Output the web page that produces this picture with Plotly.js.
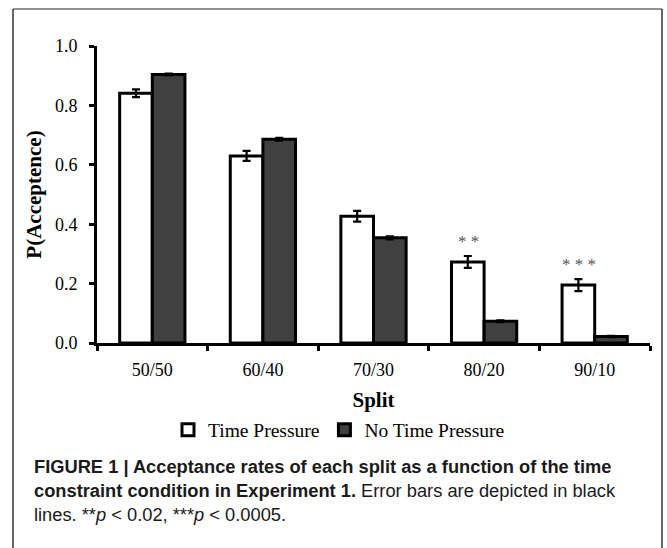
<!DOCTYPE html>
<html>
<head>
<meta charset="utf-8">
<script src="https://cdn.plot.ly/plotly-3.0.1.min.js"></script>
<style>
  html, body { margin: 0; padding: 0; background: #fff; }
  #chart { width: 667px; height: 548px; }
</style>
</head>
<body>
<div id="chart"></div>
<script>
// ---- data ----
const splits = ["50/50", "60/40", "70/30", "80/20", "90/10"];
const timePressure = [0.841, 0.630, 0.427, 0.273, 0.195];
const timePressureErr = [0.013, 0.017, 0.018, 0.020, 0.020];
const noTimePressure = [0.904, 0.686, 0.354, 0.073, 0.022];
const noTimePressureErr = [0.003, 0.005, 0.005, 0.003, 0.002];
const sigLabels = ["", "", "", "* *", "* * *"];
const yTicks = [0, 0.2, 0.4, 0.6, 0.8, 1.0];

const serif = "Liberation Serif, Times New Roman, serif";
const sans = "Liberation Sans, Arial, Helvetica, sans-serif";

// plot area in pixels: x 97..650, y 46..343
const L = 97, R = 650, T = 46, B = 343;
const px = v => (v - L) / (R - L);
const py = v => (B - v) / (B - T);

const traces = [
  {
    type: "bar", name: "Time Pressure", x: splits, y: timePressure,
    marker: { color: "#ffffff", line: { color: "#000000", width: 3 } },
    error_y: { type: "data", array: timePressureErr, visible: true, color: "#000000", thickness: 2.2, width: 4 }
  },
  {
    type: "bar", name: "No Time Pressure", x: splits, y: noTimePressure,
    marker: { color: "#404040", line: { color: "#000000", width: 3 } },
    error_y: { type: "data", array: noTimePressureErr, visible: true, color: "#000000", thickness: 2.2, width: 4 }
  }
];

const annotations = [];
splits.forEach((s, i) => {
  if (sigLabels[i]) {
    annotations.push({
      x: s, y: timePressure[i] + timePressureErr[i], xref: "x", yref: "y",
      text: sigLabels[i], showarrow: false, xshift: -16, yshift: 3,
      yanchor: "bottom", font: { family: serif, size: 17, color: "#555555" }
    });
  }
});

annotations.push({
  xref: "paper", yref: "paper", x: px(32), y: py(454), xanchor: "left", yanchor: "top",
  align: "left", showarrow: false,
  font: { family: sans, size: 18.3, color: "#1a1a1a" },
  text: "<b>FIGURE 1 | Acceptance rates of each split as a function of the time</b><br>" +
        "<b>constraint condition in Experiment 1.</b> Error bars are depicted in black<br>" +
        "lines. **<i>p</i> &lt; 0.02, ***<i>p</i> &lt; 0.0005."
});

const frameColor = "#6e6e6e";
const shapes = [
  { type: "line", xref: "paper", yref: "paper", x0: px(13), x1: px(662), y0: py(9), y1: py(9), line: { color: frameColor, width: 1.5 } },
  { type: "line", xref: "paper", yref: "paper", x0: px(13), x1: px(13), y0: py(9), y1: py(560), line: { color: "#333333", width: 1.5 } },
  { type: "line", xref: "paper", yref: "paper", x0: px(662), x1: px(662), y0: py(9), y1: py(560), line: { color: "#333333", width: 1.5 } }
];

const layout = {
  width: 667, height: 548,
  margin: { l: L, r: 667 - R, t: T, b: 548 - B, pad: 0 },
  paper_bgcolor: "#ffffff", plot_bgcolor: "#ffffff",
  barmode: "group", bargap: 0.41, bargroupgap: 0,
  showlegend: true,
  legend: {
    orientation: "h", x: px(339), xanchor: "center", y: py(430), yanchor: "middle",
    font: { family: serif, size: 19.5, color: "#000" }, itemwidth: 30, tracegroupgap: 0
  },
  xaxis: {
    type: "category", showline: true, linecolor: "#000", linewidth: 3,
    ticks: "outside", tickson: "boundaries", ticklen: 5, tickwidth: 3, tickcolor: "#000",
    ticklabelstandoff: 8,
    tickfont: { family: serif, size: 18, color: "#000" },
    showgrid: false, zeroline: false,
    title: { text: "<b>Split</b>", font: { family: serif, size: 21, color: "#000" }, standoff: 14 }
  },
  yaxis: {
    range: [0, 1.0], tickvals: yTicks, tickformat: ".1f",
    showline: true, linecolor: "#000", linewidth: 3,
    ticks: "outside", ticklen: 5, tickwidth: 3, tickcolor: "#000",
    ticklabelstandoff: 8,
    tickfont: { family: serif, size: 18, color: "#000" },
    showgrid: false, zeroline: false,
    title: { text: "<b>P(Acceptence)</b>", font: { family: serif, size: 21, color: "#000" }, standoff: 8 }
  },
  annotations: annotations,
  shapes: shapes
};

Plotly.newPlot("chart", traces, layout, { staticPlot: true, displayModeBar: false });
</script>
</body>
</html>
